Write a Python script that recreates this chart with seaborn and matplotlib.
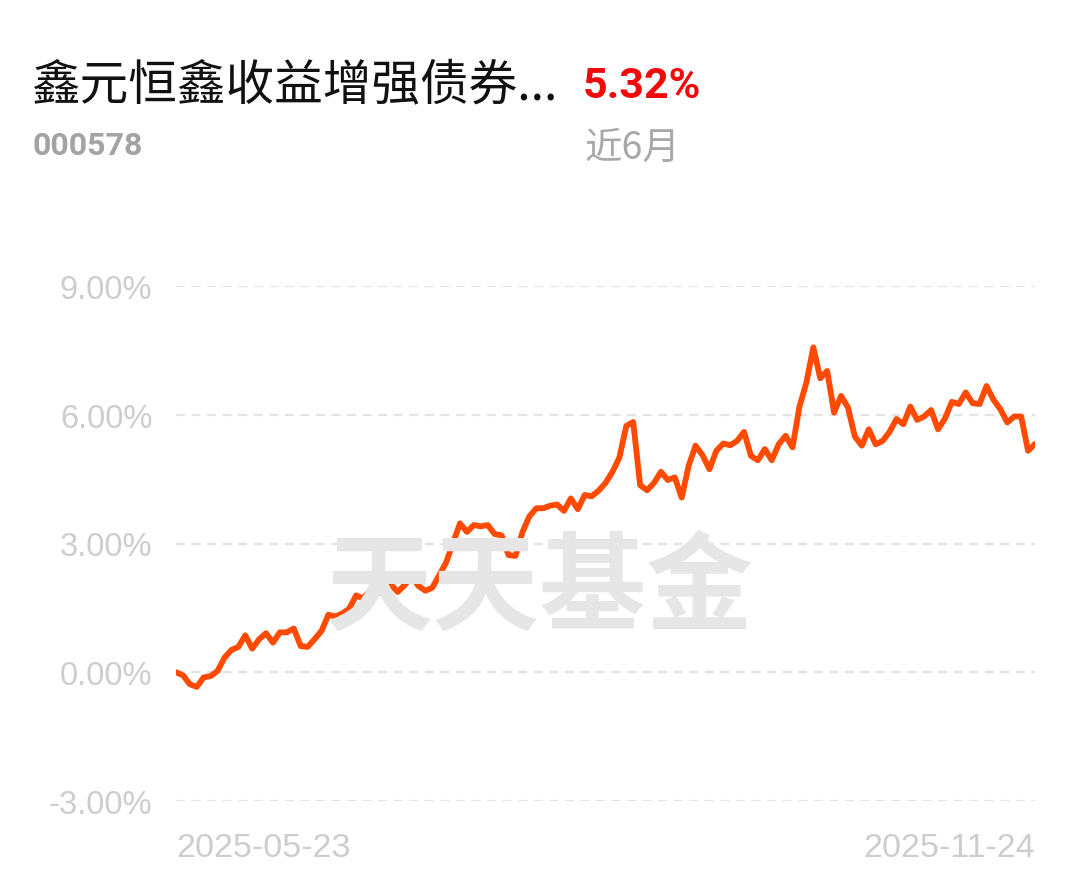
import matplotlib
matplotlib.use("Agg")
import matplotlib.pyplot as plt
import numpy as np
import pandas as pd
import seaborn as sns

# ---- data ----
fund_name = "鑫元恒鑫收益增强债券..."
fund_code = "000578"
period_return = "5.32%"
period_label = "近6月"
watermark = "天天基金"
x_tick_labels = ["2025-05-23", "2025-11-24"]
y_ticks = [-3, 0, 3, 6, 9]
y_tick_labels = ["-3.00%", "0.00%", "3.00%", "6.00%", "9.00%"]

returns = [
    0.00, -0.07, -0.28, -0.34, -0.12, -0.09, 0.03, 0.34, 0.52, 0.59,
    0.86, 0.55, 0.77, 0.91, 0.69, 0.93, 0.93, 1.02, 0.61, 0.59,
    0.77, 0.96, 1.34, 1.30, 1.37, 1.48, 1.79, 1.72, 1.90, 1.88,
    1.83, 2.05, 1.87, 2.03, 2.24, 2.01, 1.90, 1.97, 2.26, 2.56,
    3.02, 3.47, 3.27, 3.43, 3.40, 3.43, 3.22, 3.19, 2.73, 2.71,
    3.26, 3.63, 3.82, 3.82, 3.88, 3.91, 3.76, 4.05, 3.80, 4.13,
    4.10, 4.23, 4.41, 4.67, 5.00, 5.74, 5.83, 4.36, 4.24, 4.41,
    4.67, 4.48, 4.54, 4.07, 4.81, 5.28, 5.06, 4.73, 5.16, 5.33,
    5.29, 5.39, 5.60, 5.04, 4.94, 5.20, 4.94, 5.31, 5.51, 5.24,
    6.19, 6.75, 7.57, 6.85, 7.02, 6.05, 6.44, 6.17, 5.49, 5.28,
    5.66, 5.31, 5.39, 5.60, 5.90, 5.78, 6.19, 5.88, 5.96, 6.11,
    5.66, 5.91, 6.30, 6.25, 6.52, 6.27, 6.25, 6.67, 6.35, 6.13,
    5.82, 5.96, 5.96, 5.16, 5.32,
]

df = pd.DataFrame({"day": np.arange(len(returns)), "ret": returns})

# ---- style ----
sns.set_theme(style="white")
plt.rcParams["font.family"] = ["Noto Sans CJK SC", "DejaVu Sans"]

W, H = 1080, 878
fig = plt.figure(figsize=(W / 100, H / 100), dpi=100)
fig.patch.set_facecolor("white")

ax = fig.add_axes([176 / W, (H - 802) / H, (1035 - 176) / W, (802 - 287) / H])
ax.set_facecolor("white")

# watermark
fig.text(540 / W, 1 - 590 / H, watermark, fontsize=77, fontweight="bold",
         color="#e6e6e6", ha="center", va="center", zorder=0,
         family=["Noto Sans CJK SC"])

# grid lines
for yv in y_ticks:
    ax.axhline(yv, color="#e3e3e3", lw=1.6, dashes=(4, 3), zorder=1)

sns.lineplot(data=df, x="day", y="ret", ax=ax, color="#ff4a00", lw=4.2,
             zorder=3, solid_joinstyle="round", solid_capstyle="round")

ax.set_xlim(0, len(returns) - 1)
ax.set_ylim(-3, 9)
ax.set_yticks(y_ticks)
ax.set_yticklabels(y_tick_labels, family=["Liberation Sans"], fontsize=23.5,
                   color="#cdcdcd")
ax.set_xticks([0, len(returns) - 1])
ax.set_xticklabels(x_tick_labels, family=["Liberation Sans"], fontsize=24.5,
                   color="#cdcdcd")
xl = ax.get_xticklabels()
xl[0].set_ha("left")
xl[-1].set_ha("right")
ax.tick_params(axis="y", length=0, pad=17)
ax.tick_params(axis="x", length=0, pad=22)
ax.set_xlabel("")
ax.set_ylabel("")
for s in ax.spines.values():
    s.set_visible(False)
ax.patch.set_alpha(0)

# header texts
fig.text(31 / W, 1 - 86 / H, fund_name, fontsize=35, color="#111111",
         ha="left", va="center")
fig.text(583 / W, 1 - 86 / H, period_return, fontsize=31, color="#f20a0a",
         ha="left", va="center", fontweight="semibold",
         family=["Roboto", "DejaVu Sans"])
fig.text(32 / W, 1 - 146 / H, fund_code, fontsize=23, color="#a3a3a3",
         ha="left", va="center", fontweight="bold",
         family=["Roboto", "DejaVu Sans"])
fig.text(584 / W, 1 - 148 / H, period_label, fontsize=27, color="#a8a8a8",
         ha="left", va="center")

fig.savefig("out.png", dpi=100, facecolor="white")
